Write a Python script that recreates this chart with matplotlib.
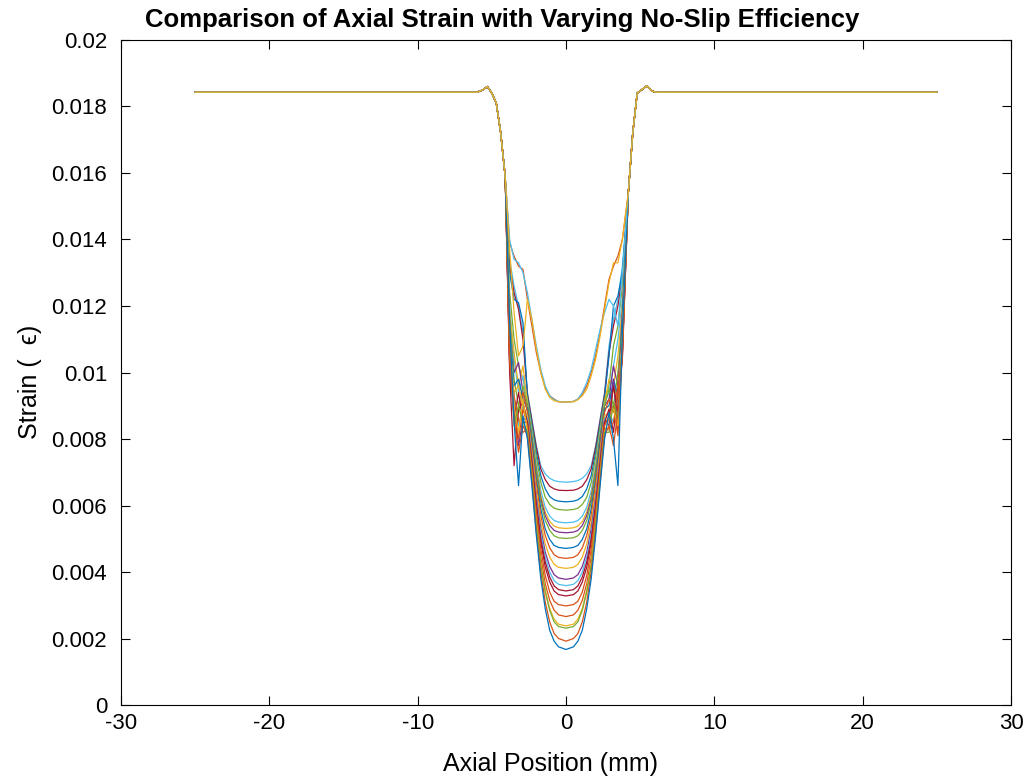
import numpy as np
import matplotlib
matplotlib.use('Agg')
import matplotlib.pyplot as plt
from matplotlib.ticker import FuncFormatter

plt.rcParams['font.family'] = ['Liberation Sans', 'DejaVu Sans']
plt.rcParams['axes.unicode_minus'] = False

# strain values are in milli-strain (x1e-3)
# shared outer parts (flat + bump + top of the wall)
left_x = [-25, -6.0, -5.6, -5.3, -5.0, -4.7, -4.4, -4.1]
left_y = [18.43, 18.43, 18.50, 18.60, 18.40, 18.10, 17.20, 15.90]
right_x = [4.2, 4.5, 4.8, 5.1, 5.45, 5.8, 6.1, 25]
right_y = [15.40, 17.20, 18.40, 18.50, 18.62, 18.46, 18.43, 18.43]

# inner region sample positions (mm)
inner_x = [-3.8, -3.5, -3.2, -2.9, -2.6, -2.3, -2.0, -1.7, -1.4, -1.1, -0.8, -0.5, 0,
           0.5, 0.8, 1.1, 1.4, 1.7, 2.0, 2.3, 2.6, 2.9, 3.2, 3.5, 3.8]

s01 = [13.4, 12.6, 12.0, 11.2, 9.4, 8.6, 7.8, 7.2, 6.95, 6.82, 6.75, 6.72, 6.70,
       6.72, 6.75, 6.82, 6.95, 7.2, 7.8, 8.6, 9.4, 10.8, 11.6, 12.2, 13.2]
s02 = [13.2, 12.4, 11.9, 11.0, 9.35, 8.55, 7.75, 7.1, 6.78, 6.58, 6.50, 6.46, 6.45,
       6.46, 6.50, 6.58, 6.78, 7.1, 7.75, 8.55, 9.35, 10.6, 11.4, 12.0, 12.9]
s03 = [13.0, 12.2, 12.1, 11.5, 9.25, 8.45, 7.6, 6.9, 6.5, 6.27, 6.17, 6.13, 6.11,
       6.13, 6.17, 6.27, 6.5, 6.9, 7.6, 8.45, 9.25, 10.5, 12.0, 12.3, 13.0]
s04 = [12.4, 11.0, 10.2, 9.8, 9.2, 8.35, 7.45, 6.7, 6.25, 6.03, 5.92, 5.88, 5.86,
       5.88, 5.92, 6.03, 6.25, 6.7, 7.45, 8.35, 9.2, 9.6, 10.8, 11.4, 12.6]
s05 = [12.0, 10.4, 9.4, 9.9, 9.1, 8.2, 7.25, 6.45, 5.95, 5.68, 5.55, 5.50, 5.48,
       5.50, 5.55, 5.68, 5.95, 6.45, 7.25, 8.2, 9.1, 9.4, 10.2, 11.0, 12.2]
s06 = [11.8, 10.6, 9.6, 10.2, 9.05, 8.1, 7.15, 6.3, 5.8, 5.52, 5.38, 5.33, 5.31,
       5.33, 5.38, 5.52, 5.8, 6.3, 7.15, 8.1, 9.05, 9.8, 9.6, 10.5, 12.0]
s07 = [11.5, 10.0, 10.3, 9.4, 9.0, 8.05, 7.05, 6.2, 5.7, 5.4, 5.25, 5.20, 5.18,
       5.20, 5.25, 5.4, 5.7, 6.2, 7.05, 8.05, 9.0, 9.2, 10.2, 9.6, 11.8]
s08 = [11.6, 9.8, 9.0, 9.6, 9.0, 8.0, 7.0, 6.1, 5.55, 5.25, 5.09, 5.03, 5.01,
       5.03, 5.09, 5.25, 5.55, 6.1, 7.0, 8.0, 9.0, 9.5, 9.0, 10.0, 11.5]
s09 = [11.2, 9.6, 9.8, 9.2, 8.9, 7.9, 6.8, 5.9, 5.3, 4.98, 4.80, 4.74, 4.71,
       4.74, 4.80, 4.98, 5.3, 5.9, 6.8, 7.9, 8.9, 9.0, 9.8, 9.3, 11.6]
s10 = [11.0, 9.2, 8.8, 9.4, 8.8, 7.75, 6.65, 5.7, 5.1, 4.73, 4.52, 4.44, 4.41,
       4.44, 4.52, 4.73, 5.1, 5.7, 6.65, 7.75, 8.8, 9.2, 8.8, 9.6, 11.2]
s11 = [10.8, 9.4, 9.6, 9.0, 8.7, 7.6, 6.45, 5.5, 4.85, 4.45, 4.23, 4.14, 4.11,
       4.14, 4.23, 4.45, 4.85, 5.5, 6.45, 7.6, 8.7, 8.8, 9.5, 9.0, 11.0]
s12 = [10.4, 9.0, 7.8, 8.6, 8.6, 7.45, 6.25, 5.3, 4.6, 4.17, 3.92, 3.82, 3.78,
       3.82, 3.92, 4.17, 4.6, 5.3, 6.25, 7.45, 8.6, 8.4, 9.8, 8.2, 10.8]
s13 = [10.9, 9.2, 8.4, 9.0, 8.6, 7.35, 6.15, 5.15, 4.45, 4.0, 3.74, 3.63, 3.59,
       3.63, 3.74, 4.0, 4.45, 5.15, 6.15, 7.35, 8.6, 8.8, 8.5, 9.2, 11.0]
s14 = [10.2, 8.6, 9.4, 8.5, 8.5, 7.3, 6.05, 5.0, 4.3, 3.85, 3.58, 3.47, 3.43,
       3.47, 3.58, 3.85, 4.3, 5.0, 6.05, 7.3, 8.5, 8.6, 9.6, 8.8, 10.5]
s15 = [10.0, 7.2, 8.9, 9.1, 8.5, 7.2, 5.95, 4.9, 4.15, 3.7, 3.43, 3.32, 3.28,
       3.32, 3.43, 3.7, 4.15, 4.9, 5.95, 7.2, 8.5, 8.9, 8.2, 9.4, 10.4]
s16 = [10.3, 8.8, 8.0, 8.9, 8.4, 7.1, 5.8, 4.7, 3.9, 3.4, 3.12, 3.02, 2.98,
       3.02, 3.12, 3.4, 3.9, 4.7, 5.8, 7.1, 8.4, 8.7, 9.0, 8.1, 10.6]
s17 = [10.5, 9.3, 8.6, 8.2, 8.3, 7.0, 5.6, 4.45, 3.65, 3.15, 2.85, 2.71, 2.66,
       2.71, 2.85, 3.15, 3.65, 4.45, 5.6, 7.0, 8.3, 8.3, 8.5, 9.4, 10.7]
s18 = [11.2, 9.0, 8.2, 9.2, 8.2, 6.9, 5.45, 4.25, 3.45, 2.9, 2.58, 2.43, 2.38,
       2.43, 2.58, 2.9, 3.45, 4.25, 5.45, 6.9, 8.2, 8.6, 8.9, 8.4, 11.0]
s19 = [10.8, 8.4, 9.0, 8.5, 8.2, 6.85, 5.4, 4.2, 3.4, 2.85, 2.5, 2.36, 2.31,
       2.36, 2.5, 2.85, 3.4, 4.2, 5.4, 6.85, 8.2, 8.2, 9.1, 8.6, 10.9]
s20 = [10.6, 8.6, 7.6, 8.4, 8.1, 6.7, 5.2, 4.0, 3.1, 2.5, 2.15, 2.0, 1.92,
       2.0, 2.15, 2.5, 3.1, 4.0, 5.2, 6.7, 8.1, 8.4, 7.8, 8.8, 10.6]
s21 = [11.5, 8.5, 6.6, 8.7, 8.0, 6.6, 5.1, 3.8, 2.9, 2.25, 1.92, 1.75, 1.67,
       1.75, 1.92, 2.25, 2.9, 3.8, 5.1, 6.6, 8.0, 8.8, 8.0, 6.6, 11.2]
s22 = [13.9, 13.5, 13.2, 13.1, 12.2, 11.4, 10.6, 10.0, 9.55, 9.3, 9.2, 9.12, 9.11,
       9.13, 9.2, 9.35, 9.6, 10.0, 10.5, 11.2, 12.0, 12.8, 13.2, 13.5, 14.0]
s23 = [14.0, 13.4, 13.3, 13.0, 12.4, 11.6, 10.8, 10.1, 9.6, 9.3, 9.18, 9.13, 9.11,
       9.13, 9.2, 9.4, 9.7, 10.1, 10.7, 11.3, 11.8, 12.2, 12.0, 11.4, 13.0]
s24 = [13.7, 11.8, 10.5, 10.8, 12.2, 11.6, 10.7, 10.0, 9.5, 9.25, 9.15, 9.12, 9.11,
       9.12, 9.18, 9.3, 9.5, 9.9, 10.4, 11.1, 11.9, 12.7, 13.3, 13.3, 14.0]

series = [s01, s02, s03, s04, s05, s06, s07, s08, s09, s10, s11, s12,
          s13, s14, s15, s16, s17, s18, s19, s20, s21, s22, s23, s24]
colors = ['#4DBEEE', '#A2142F', '#0072BD', '#77AC30', '#4DBEEE', '#EDB120',
          '#7E2F8E', '#77AC30', '#0072BD', '#D95319', '#EDB120', '#7E2F8E',
          '#4DBEEE', '#A2142F', '#A2142F', '#D95319', '#D95319', '#EDB120',
          '#77AC30', '#D95319', '#0072BD', '#D95319', '#4DBEEE', '#EDB120']

fig = plt.figure(figsize=(10.29, 7.78), dpi=100)
ax = fig.add_axes([0.1176, 0.0938, 0.8649, 0.8548])

x_all = np.array(left_x + inner_x + right_x)
for s, c in zip(series, colors):
    y_all = np.array(left_y + s + right_y) * 1e-3
    ax.plot(x_all, y_all, color=c, lw=0.9)

ax.set_xlim(-30, 30)
ax.set_ylim(0, 0.02)
ax.set_xticks(np.arange(-30, 31, 10))
ax.set_yticks(np.arange(0, 0.0201, 0.002))
ax.yaxis.set_major_formatter(FuncFormatter(lambda v, p: '{:g}'.format(round(v, 4))))
ax.tick_params(direction='in', top=True, right=True, labelsize=16, length=6.5, width=0.8)
ax.tick_params(axis='x', pad=6)
ax.tick_params(axis='y', pad=10)
for sp in ax.spines.values():
    sp.set_linewidth(0.8)

ax.set_xlabel('Axial Position (mm)', fontsize=18)
ax.set_ylabel('Strain (  \u03f5)', fontsize=18)
ax.xaxis.set_label_coords(0.483, -0.0707)
ax.yaxis.set_label_coords(-0.0888, 0.486)

fig.text(0.488, 0.974, 'Comparison of Axial Strain with Varying No-Slip Efficiency',
         ha='center', va='center', fontsize=18.5, fontweight='bold')

fig.savefig('out.png', dpi=100)
